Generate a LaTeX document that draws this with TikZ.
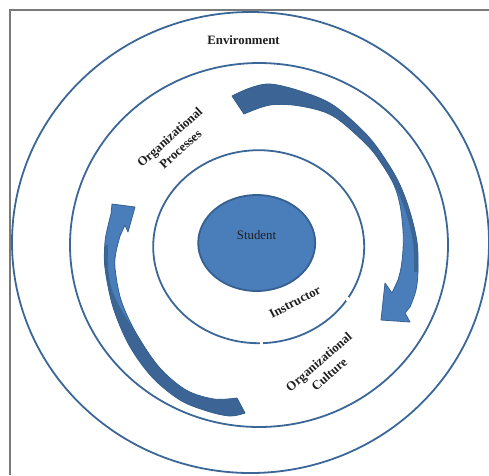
\documentclass[tikz,border=0pt]{standalone}
\usepackage{fontspec}
\setmainfont{Liberation Serif}
\usetikzlibrary{shapes.geometric}
\definecolor{ringc}{HTML}{3B6698}
\definecolor{lightb}{HTML}{4A7EBB}
\definecolor{darkb}{HTML}{3C6595}
\definecolor{edgeb}{HTML}{35608F}
\definecolor{framec}{HTML}{7A7A7A}
\definecolor{txt}{HTML}{1E1E1E}
\begin{document}
\begin{tikzpicture}[x=1pt,y=-1pt,
  ring/.style={draw=ringc, line width=1.8pt, ellipse, inner sep=0pt},
  lbl/.style={font=\fontsize{12.8}{16}\selectfont\bfseries, text=txt, align=center, inner sep=0pt},
  plainlbl/.style={font=\fontsize{12.8}{16}\selectfont, text=txt, inner sep=0pt},
  arrowfill/.style={fill=lightb},
  arrowdark/.style={fill=darkb},
  arrowedge/.style={draw=edgeb, line width=0.8pt, line join=round}]
\useasboundingbox (0,0) rectangle (489,475);
% frame
\draw[framec, line width=1.4pt] (10,475) -- (10,10) -- (489,10);
% rings
\node[ring, minimum width=477pt, minimum height=461pt] (env) at (250.5,242.5) {};
\node[ring, minimum width=378pt, minimum height=364pt] (org) at (259,245) {};
\node[ring, minimum width=211pt, minimum height=193pt] (ins) at (258.7,246.7) {};
\node[ring, draw=edgeb, fill=lightb, minimum width=117pt, minimum height=96pt] (stu) at (256.7,243) {};
% small gaps in the inner ring
\fill[white] (345.5,297) rectangle (348.5,301);
\fill[white] (260,340.5) rectangle (263,344.5);
% right curved arrow
\path[save path=\rarrow] plot[smooth, tension=0.55] coordinates {(232,96) (250,88) (270,84) (300,91) (333,105) (367,135) (387,162) (400,185) (410,212) (417,242) (418,270) (416,290) (410,307)}
  -- (405,313) -- (410,322) -- (381,320) -- (385,283) -- (392,293)
  -- plot[smooth, tension=0.55] coordinates {(398,280) (401,268) (403,250) (403,230) (400,205) (394,185) (382,164) (366,144) (333,116) (300,106) (270,105) (244,114)} -- cycle;
\fill[arrowfill, use path=\rarrow];
\fill[arrowdark] plot[smooth, tension=0.55] coordinates {(232,96) (250,88) (270,84) (300,91) (333,105) (367,135) (387,162) (400,185) (410,212) (417,242) (418,272)}
  -- plot[smooth, tension=0.55] coordinates {(414,272) (413,242) (406,213) (396,188) (382,165) (366,144) (333,116) (300,106) (270,105) (244,114)} -- cycle;
\draw[arrowedge, use path=\rarrow];
% left curved arrow
\path[save path=\larrow] plot[smooth, tension=0.55] coordinates {(245,413) (230,416) (207,411) (180,400) (152,377) (129,345) (113,307) (105,268) (105,242) (108,226) (111,214)}
  -- (112,204) -- (135,207) -- (128,232) -- (125,225)
  -- plot[smooth, tension=0.55] coordinates {(120,236) (116,252) (115,268) (121,300) (136,333) (159,367) (186,390) (214,399) (237,398)} -- cycle;
\fill[arrowfill, use path=\larrow];
\fill[arrowdark] plot[smooth, tension=0.55] coordinates {(245,413) (230,416) (207,411) (180,400) (152,377) (129,345) (113,307) (105,268) (105,245)}
  -- plot[smooth, tension=0.55] coordinates {(108,245) (108,268) (112,290) (121,309) (136,333) (159,367) (186,390) (214,399) (237,398)} -- cycle;
\draw[arrowedge, use path=\larrow];
% labels
\node[lbl] (tenv) at (243.5,40) {Environment};
\node[plainlbl] (tstu) at (256.5,235.5) {Student};
\node[lbl, rotate=28] (tins) at (295,302) {Instructor};
\node[lbl, rotate=42] (tproc) at (175,143) {Organizational\\Processes};
\node[lbl, rotate=41] (tcult) at (324,368) {Organizational\\Culture};
\end{tikzpicture}
\end{document}
